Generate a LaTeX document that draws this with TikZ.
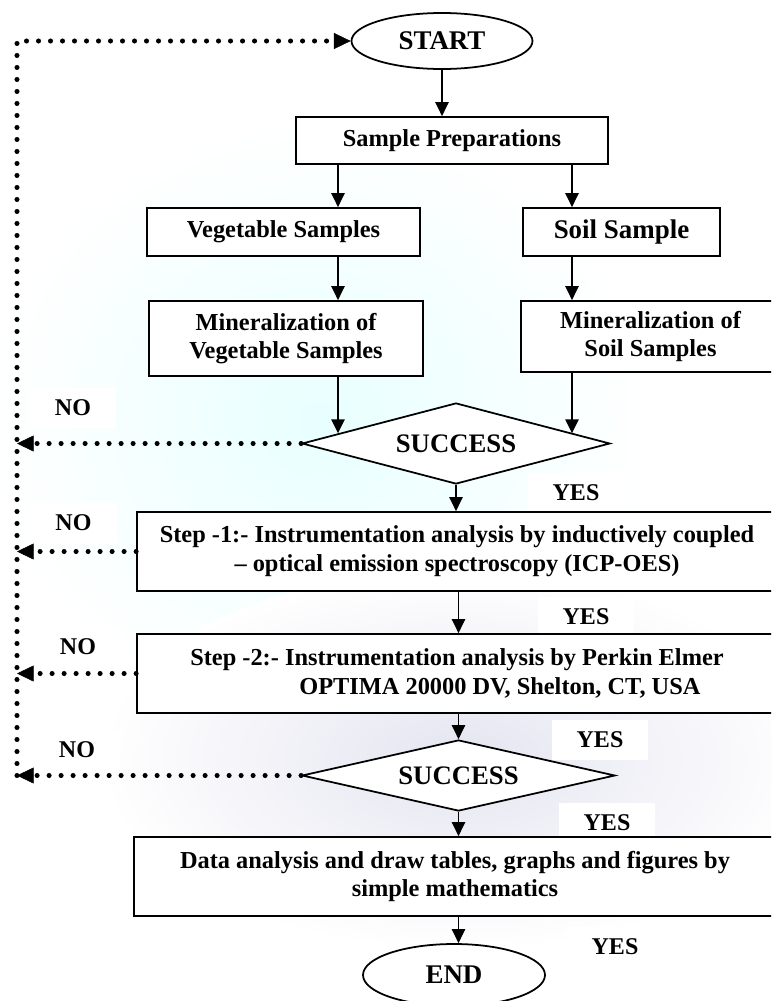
\documentclass[tikz,border=0pt]{standalone}
\usepackage{fontspec}
\setmainfont{Liberation Serif}
\usetikzlibrary{arrows.meta,shapes.geometric}

\tikzset{
  base/.style={draw, line width=1.5pt, fill=white, inner sep=0pt, align=center,
    font=\bfseries\fontsize{20.8}{24.5}\selectfont},
  proc/.style={base, rectangle},
  term/.style={base, ellipse, font=\bfseries\fontsize{23}{27}\selectfont},
  cond/.style={base, diamond, aspect=4, font=\bfseries\fontsize{22.8}{27}\selectfont},
  tag/.style={fill=white, inner xsep=0.75cm, inner ysep=0.36cm,
    font=\bfseries\fontsize{20.5}{24}\selectfont},
  arr/.style={-{Triangle[length=0.42cm,width=0.4cm]}, line width=1.2pt},
  fb/.style={line width=4.3pt, line cap=round, dash pattern=on 0pt off 0.36cm},
  fbarr/.style={fb, -{Triangle[length=0.5cm,width=0.48cm,line width=0.4pt]}}
}

\begin{document}
\begin{tikzpicture}[x=0.03cm,y=-0.03cm]
                \clip (0,0) rectangle (771,1001);
                % faint watermark
                \shade[inner color=cyan!9, outer color=white] (320,420) ellipse (330 and 300);
                \shade[inner color=blue!30!gray!16, outer color=white] (460,760) ellipse (360 and 190);
                % labels
                \node[tag] (no1) at (73,408) {NO};
                \node[tag] (no2) at (73.5,523) {NO};
                \node[tag] (no3) at (78,647) {NO};
                \node[tag] (no4) at (77,750) {NO};
                \node[tag] (yes1) at (576,493) {YES};
                \node[tag] (yes2) at (586,617) {YES};
                \node[tag] (yes3) at (600,740) {YES};
                \node[tag] (yes4) at (607,823) {YES};
                \node[tag] (yes5) at (615,947) {YES};
                % chart
                \node[term, minimum width=5.43cm, minimum height=1.68cm] (start) at (442,41) {START};
                \node[proc, minimum width=9.36cm, minimum height=1.41cm] (prep) at (452,140.5) {Sample Preparations};
                \node[proc, minimum width=8.19cm, minimum height=1.44cm] (veg) at (283.5,232) {Vegetable Samples};
                \node[proc, minimum width=5.91cm, minimum height=1.44cm, font=\bfseries\fontsize{23}{27}\selectfont] (soil) at (621.5,232) {Soil Sample};
                \node[proc, minimum width=8.22cm, minimum height=2.25cm] (minveg) at (286,338.5) {Mineralization of\\Vegetable Samples};
                \node[proc, minimum width=7.77cm, minimum height=2.13cm] (minsoil) at (650.5,336.5) {Mineralization of\\Soil Samples};
                \node[cond, minimum width=9.24cm, minimum height=2.43cm] (succ1) at (456,443.5) {SUCCESS};
                \node[proc, minimum width=19.2cm, minimum height=2.37cm] (step1) at (457,551.5) {Step -1:- Instrumentation analysis by inductively coupled\\-- optical emission spectroscopy (ICP-OES)};
                \node[proc, minimum width=19.2cm, minimum height=2.37cm, align=left] (step2) at (457,673.5) {Step -2:- Instrumentation analysis by Perkin Elmer\\\hspace*{3.27cm}OPTIMA 20000 DV, Shelton, CT, USA};
                \node[cond, minimum width=9.39cm, minimum height=2.13cm] (succ2) at (458.5,775.5) {SUCCESS};
                \node[proc, minimum width=19.26cm, minimum height=2.37cm] (data) at (455,876.5) {Data analysis and draw tables, graphs and figures by\\simple mathematics};
                \node[term, minimum width=5.46cm, minimum height=1.86cm] (end) at (454,975) {END};
                % main flow
                \coordinate (lcol) at (338,0);
                \coordinate (rcol) at (572,0);
                \draw[arr] (start.south) -- (start.south |- prep.north);
                \draw[arr] (prep.south -| lcol) -- (veg.north -| lcol);
                \draw[arr] (prep.south -| rcol) -- (soil.north -| rcol);
                \draw[arr] (veg.south -| lcol) -- (minveg.north -| lcol);
                \draw[arr] (soil.south -| rcol) -- (minsoil.north -| rcol);
                \draw[arr] (minveg.south -| lcol) -- (succ1.175 -| lcol);
                \draw[arr] (minsoil.south -| rcol) -- (succ1.5 -| rcol);
                \draw[arr] (succ1.south) -- (succ1.south |- step1.north);
                \draw[arr] (step1.south -| succ2.north) -- (step2.north -| succ2.north);
                \draw[arr] (step2.south -| succ2.north) -- (succ2.north);
                \draw[arr] (succ2.south) -- (succ2.south |- data.north);
                \draw[arr] (data.south -| succ2.south) -- (end.north -| succ2.south);
                % back to start
                \coordinate (loop) at (17,0);
                \draw[fbarr] (loop |- succ2.west) -- (loop |- start.west) -- (start.west);
                \draw[fbarr] (succ1.west) -- (succ1.west -| loop);
                \draw[fbarr] (step1.west) -- (step1.west -| loop);
                \draw[fbarr] (step2.west) -- (step2.west -| loop);
                \draw[fbarr] (succ2.west) -- (succ2.west -| loop);
            \end{tikzpicture}
\end{document}
